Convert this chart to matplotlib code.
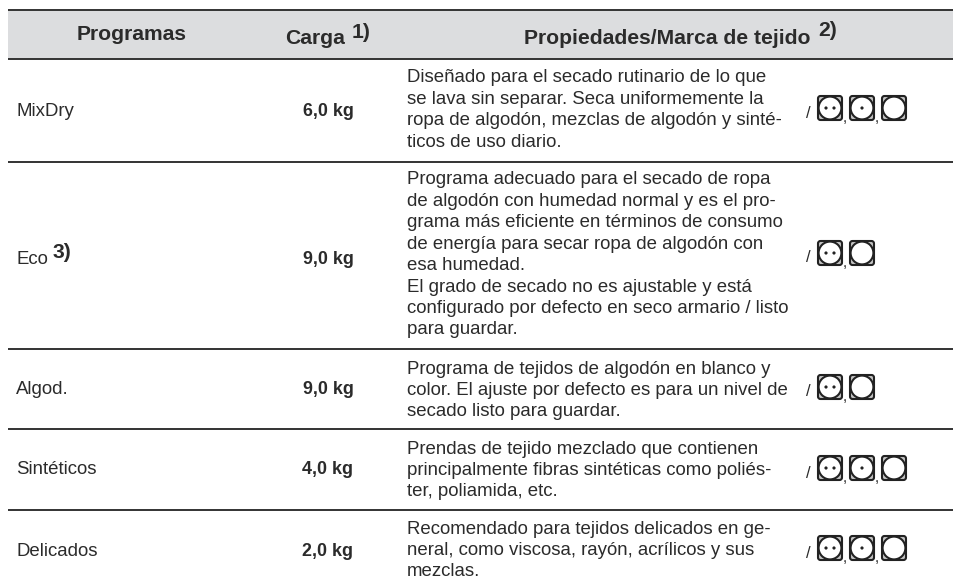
import matplotlib
matplotlib.use("Agg")
import matplotlib.pyplot as plt
from matplotlib.patches import Circle, FancyBboxPatch, Rectangle

plt.rcParams["font.family"] = ["Liberation Sans", "DejaVu Sans"]

# Table content
headers = ["Programas", "Carga", "Propiedades/Marca de tejido"]
header_notes = ["", "1)", "2)"]
programs = ["MixDry", "Eco", "Algod.", "Sintéticos", "Delicados"]
program_notes = ["", "3)", "", "", ""]
loads = ["6,0 kg", "9,0 kg", "9,0 kg", "4,0 kg", "2,0 kg"]
descriptions = [
    [
        "Diseñado para el secado rutinario de lo que",
        "se lava sin separar. Seca uniformemente la",
        "ropa de algodón, mezclas de algodón y sinté-",
        "ticos de uso diario.",
    ],
    [
        "Programa adecuado para el secado de ropa",
        "de algodón con humedad normal y es el pro-",
        "grama más eficiente en términos de consumo",
        "de energía para secar ropa de algodón con",
        "esa humedad.",
        "El grado de secado no es ajustable y está",
        "configurado por defecto en seco armario / listo",
        "para guardar.",
    ],
    [
        "Programa de tejidos de algodón en blanco y",
        "color. El ajuste por defecto es para un nivel de",
        "secado listo para guardar.",
    ],
    [
        "Prendas de tejido mezclado que contienen",
        "principalmente fibras sintéticas como poliés-",
        "ter, poliamida, etc.",
    ],
    [
        "Recomendado para tejidos delicados en ge-",
        "neral, como viscosa, rayón, acrílicos y sus",
        "mezclas.",
    ],
]
# number of dots in each care symbol
symbols = [[2, 1, 0], [2, 0], [2, 0], [2, 1, 0], [2, 1, 0]]

# Layout in pixels
rule_y = [10, 59, 162, 349, 429, 510]
first_line_y = [78, 180, 369, 449, 529]
center_y = [112, 260, 390, 470, 552]
icon_top = [95, 240, 374, 455, 535]
line_step = 21.4
text_color = "#2b2b2b"
size = 13.45
head_size = 15.2

fig = plt.figure(figsize=(9.54, 5.87), dpi=100)
ax = fig.add_axes([0, 0, 1, 1])
ax.set_xlim(0, 954)
ax.set_ylim(587, 0)
ax.axis("off")


def draw_symbol(x, y, dots):
    s = 26
    ax.add_patch(
        FancyBboxPatch(
            (x + 1, y + 1),
            s - 2,
            s - 2,
            boxstyle="round,pad=0,rounding_size=2.5",
            fc="#c4c4c4",
            ec="#222222",
            lw=1.5,
        )
    )
    cx, cy = x + s / 2, y + s / 2
    ax.add_patch(Circle((cx, cy), s / 2 - 1.6, fc="white", ec="#222222", lw=1.5))
    if dots == 1:
        ax.add_patch(Circle((cx, cy), 1.6, fc="#222222", ec="none"))
    elif dots == 2:
        ax.add_patch(Circle((cx - 4, cy), 1.6, fc="#222222", ec="none"))
        ax.add_patch(Circle((cx + 4, cy), 1.6, fc="#222222", ec="none"))


# Header band and rules
ax.add_patch(Rectangle((8, 10), 946, 49, fc="#dcdddf", ec="none"))
for y in rule_y:
    ax.plot([8, 954], [y, y], color="#333333", lw=1.4, solid_capstyle="butt")

# Header text
ax.text(132, 34, headers[0], fontsize=head_size, fontweight="bold", color=text_color,
        ha="center", va="center")
ax.text(285, 38, headers[1], fontsize=head_size, fontweight="bold", color=text_color,
        ha="left", va="center")
ax.text(352, 32, header_notes[1], fontsize=head_size, color=text_color, fontweight="bold",
        ha="left", va="center")
ax.text(811, 38, headers[2], fontsize=head_size, fontweight="bold", color=text_color,
        ha="right", va="center")
ax.text(818, 31, header_notes[2], fontsize=head_size, color=text_color, fontweight="bold",
        ha="left", va="center")

# Rows
for i in range(len(programs)):
    ax.text(16, center_y[i], programs[i], fontsize=size, color=text_color,
            ha="left", va="center")
    if program_notes[i]:
        ax.text(53, center_y[i] - 7, program_notes[i], fontsize=head_size, fontweight="bold",
                color=text_color, ha="left", va="center")
    ax.text(328, center_y[i], loads[i], fontsize=12.9, fontweight="bold",
            color=text_color, ha="center", va="center")
    for j, line in enumerate(descriptions[i]):
        ax.text(407, first_line_y[i] + j * line_step, line, fontsize=size,
                color=text_color, ha="left", va="center")
    ax.text(806, icon_top[i] + 18, "/", fontsize=12, color=text_color, ha="left", va="center")
    for k, dots in enumerate(symbols[i]):
        x = 817 + k * 32
        draw_symbol(x, icon_top[i], dots)
        if k < len(symbols[i]) - 1:
            ax.text(x + 26, icon_top[i] + 23, ",", fontsize=11, color=text_color,
                    ha="left", va="center")

fig.savefig("out.png", dpi=100)
